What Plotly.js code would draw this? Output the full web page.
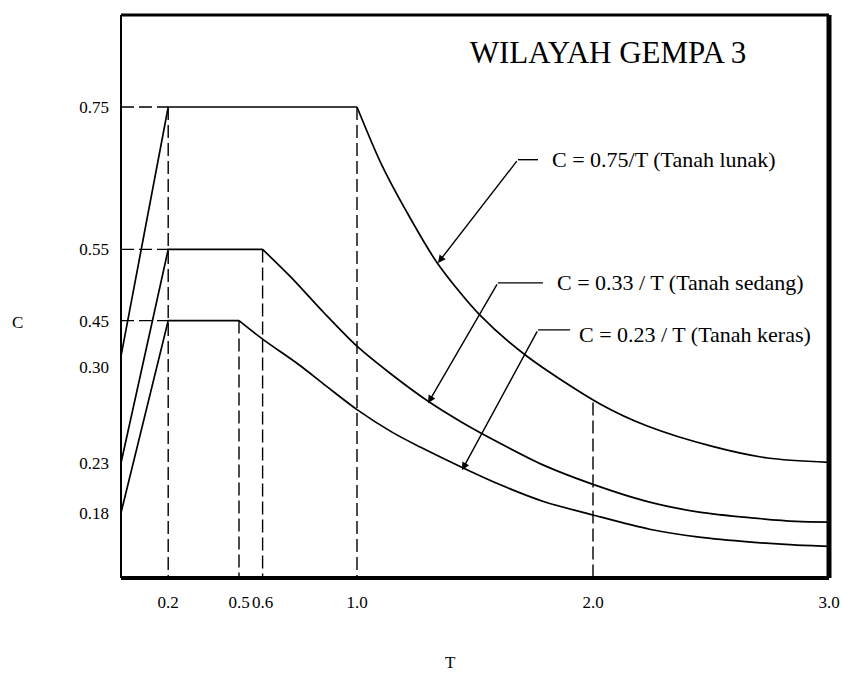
<!DOCTYPE html>
<html>
<head>
<meta charset="utf-8">
<script src="https://cdn.plot.ly/plotly-3.0.1.min.js"></script>
<style>html,body{margin:0;padding:0;background:#fff;}#chart{width:842px;height:676px;}</style>
</head>
<body>
<div id="chart"></div>
<script>
// ---- data (T in seconds, C) ----
const lunakT  = [0, 0.2, 1.0, 1.10, 1.21, 1.34, 1.52, 1.72, 2.03, 2.23, 2.51, 2.74, 3.0];
const lunakC  = [0.40, 0.75, 0.75, 0.672, 0.603, 0.531, 0.458, 0.400, 0.333, 0.302, 0.273, 0.257, 0.251];

const sedangT = [0, 0.2, 0.6, 0.72, 0.86, 1.0, 1.14, 1.30, 1.44, 1.61, 1.79, 2.0, 2.24, 2.45, 2.67, 2.86, 3.0];
const sedangC = [0.25, 0.55, 0.55, 0.511, 0.461, 0.414, 0.376, 0.337, 0.308, 0.277, 0.247, 0.220, 0.195, 0.181, 0.173, 0.168, 0.167];

const kerasT  = [0, 0.2, 0.5, 0.6, 0.75, 0.87, 1.0, 1.15, 1.27, 1.45, 1.61, 1.79, 2.0, 2.24, 2.45, 2.67, 2.85, 3.0];
const kerasC  = [0.18, 0.45, 0.45, 0.424, 0.389, 0.358, 0.325, 0.293, 0.272, 0.243, 0.219, 0.196, 0.177, 0.157, 0.146, 0.139, 0.135, 0.133];

// index where the descending branch starts (end of plateau)
const decayStart = 2;

// dashed guide lines
const plateauC  = [0.75, 0.55, 0.45];          // horizontal guides from T=0 to T=0.2
const plateauT0 = 0.2;
const guideT    = [0.2, 0.5, 0.6, 1.0, 2.0];    // vertical guides
const guideTopC = [0.75, 0.45, 0.55, 0.75, 0.335];

// axis ticks (as placed in the picture)
const xTickVals  = [0.2, 0.5, 0.6, 1.0, 2.0, 3.0];
const xTickText  = ['0.2', '0.5', '0.6', '1.0', '2.0', '3.0'];
const yTickVals  = [0.75, 0.55, 0.45, 0.385, 0.25, 0.18];
const yTickText  = ['0.75', '0.55', '0.45', '0.30', '0.23', '0.18'];

// labels
const titleText  = 'WILAYAH GEMPA 3';
const labelTexts = ['C = 0.75/T (Tanah lunak)', 'C = 0.33 / T (Tanah sedang)', 'C = 0.23 / T (Tanah keras)'];
// label anchor (T, C), leader corner (T, C), leader end (T), arrow tip (T, C)
const labelPosT  = [1.818, 1.839, 1.932];
const labelPosC  = [0.676, 0.503, 0.430];
const cornerT    = [1.682, 1.597, 1.767];
const cornerC    = [0.676, 0.503, 0.437];
const cornerEndT = [1.767, 1.788, 1.903];
const tipT       = [1.343, 1.301, 1.445];
const tipC       = [0.531, 0.334, 0.240];

const xRange = [0, 3];
const yRange = [0.0885, 0.8792];

const FONT = 'Liberation Serif, Times New Roman, serif';

// build guide traces
const gx = [], gy = [];
plateauC.forEach(c => { gx.push(0, plateauT0, null); gy.push(c, c, null); });
guideT.forEach((t, i) => { gx.push(t, t, null); gy.push(guideTopC[i], yRange[0], null); });

const curveLine = {color: '#000', width: 1.7};
const traces = [
  {x: gx, y: gy, mode: 'lines', line: {color: '#000', width: 1.4, dash: '13px,5px'}, hoverinfo: 'skip'}
];
[[lunakT, lunakC, 'Tanah lunak'], [sedangT, sedangC, 'Tanah sedang'], [kerasT, kerasC, 'Tanah keras']].forEach(([t, c, nm]) => {
  traces.push({x: t.slice(0, decayStart + 1), y: c.slice(0, decayStart + 1), mode: 'lines',
    line: curveLine, name: nm});
  traces.push({x: t.slice(decayStart), y: c.slice(decayStart), mode: 'lines',
    line: Object.assign({shape: 'spline', smoothing: 0.8}, curveLine), name: nm});
});

const annotations = [];
const shapes = [];
labelTexts.forEach((txt, i) => {
  annotations.push({x: labelPosT[i], y: labelPosC[i], xref: 'x', yref: 'y', text: txt,
    showarrow: false, xanchor: 'left', yanchor: 'middle',
    font: {family: FONT, size: 22, color: '#000'}});
  annotations.push({x: tipT[i], y: tipC[i], xref: 'x', yref: 'y', ax: cornerT[i], ay: cornerC[i],
    axref: 'x', ayref: 'y', text: '', showarrow: true, arrowhead: 2, arrowsize: 1.1,
    arrowwidth: 1.4, arrowcolor: '#000', standoff: 0, startstandoff: 0});
  shapes.push({type: 'line', xref: 'x', yref: 'y', x0: cornerT[i], x1: cornerEndT[i],
    y0: cornerC[i], y1: cornerC[i], line: {color: '#000', width: 1.4}});
});
// axis titles
annotations.push({xref: 'paper', yref: 'paper', x: -0.1455, y: 0.4547, text: 'C', showarrow: false,
  xanchor: 'center', yanchor: 'middle', font: {family: FONT, size: 17, color: '#000'}});
annotations.push({xref: 'paper', yref: 'paper', x: 0.4647, y: -0.150, text: 'T', showarrow: false,
  xanchor: 'center', yanchor: 'middle', font: {family: FONT, size: 17, color: '#000'}});

// frame
shapes.push({type: 'line', xref: 'paper', yref: 'paper', x0: 0, x1: 1, y0: 0, y1: 0, line: {color: '#000', width: 4}});
shapes.push({type: 'line', xref: 'paper', yref: 'paper', x0: 0, x1: 0, y0: 0, y1: 1, line: {color: '#000', width: 2}});
shapes.push({type: 'line', xref: 'paper', yref: 'paper', x0: 0, x1: 1, y0: 1, y1: 1, line: {color: '#000', width: 3}});
shapes.push({type: 'line', xref: 'paper', yref: 'paper', x0: 1, x1: 1, y0: 0, y1: 1, line: {color: '#000', width: 5}});

const layout = {
  width: 842, height: 676,
  margin: {l: 121, r: 13, t: 15, b: 98},
  paper_bgcolor: '#fff', plot_bgcolor: '#fff',
  showlegend: false,
  font: {family: FONT, color: '#000'},
  title: {text: titleText, xref: 'container', yref: 'container', x: 608 / 842, xanchor: 'center',
    y: 1 - 52 / 676, yanchor: 'middle', font: {family: FONT, size: 31, color: '#000'}},
  xaxis: {range: xRange, tickvals: xTickVals, ticktext: xTickText, showgrid: false, zeroline: false,
    showline: false, ticks: '', ticklabelstandoff: 12, tickfont: {family: FONT, size: 17, color: '#000'}},
  yaxis: {range: yRange, tickvals: yTickVals, ticktext: yTickText, showgrid: false, zeroline: false,
    showline: false, ticks: '', ticklabelstandoff: 11, tickfont: {family: FONT, size: 17, color: '#000'}},
  annotations: annotations,
  shapes: shapes
};

Plotly.newPlot('chart', traces, layout, {staticPlot: true, displayModeBar: false});
</script>
</body>
</html>
